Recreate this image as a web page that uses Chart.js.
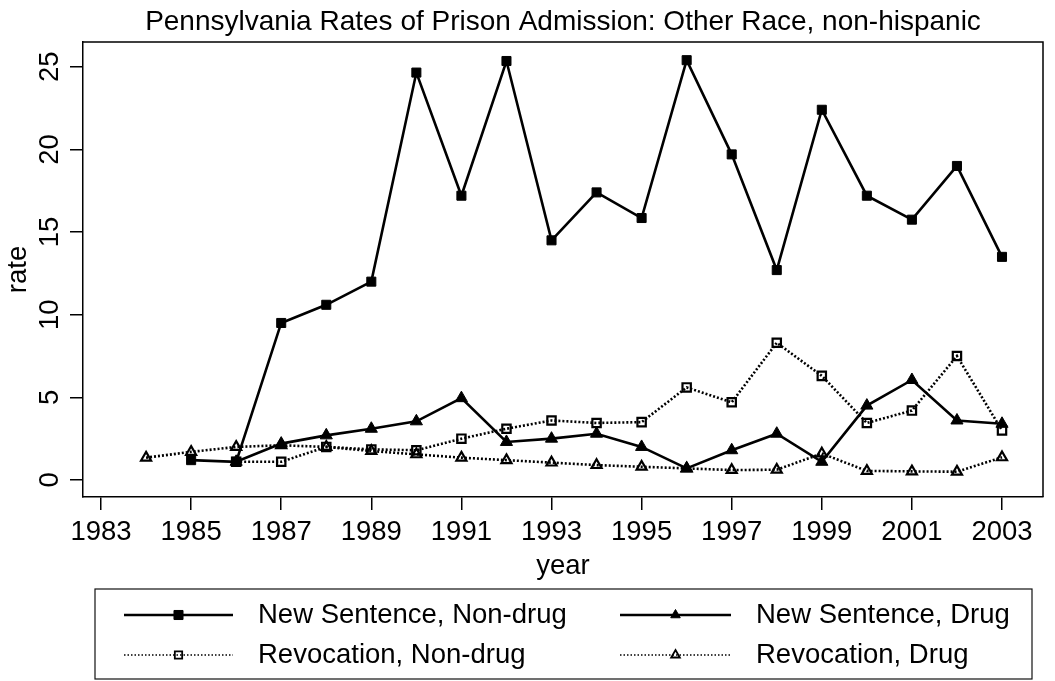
<!DOCTYPE html>
<html>
<head>
<meta charset="utf-8">
<script src="https://cdn.jsdelivr.net/npm/chart.js@4.4.0/dist/chart.umd.min.js"></script>
<style>html,body{margin:0;padding:0;background:#fff}canvas{display:block}</style>
</head>
<body>
<canvas id="c" width="1055" height="681"></canvas>
<script>
// ---- data ----
const years = [1984,1985,1986,1987,1988,1989,1990,1991,1992,1993,1994,1995,1996,1997,1998,1999,2000,2001,2002,2003];
const newSentenceNonDrug = [null,1.2,1.1,9.5,10.6,12.0,24.65,17.2,25.35,14.5,17.4,15.85,25.4,19.7,12.7,22.4,17.2,15.75,19.0,13.5];
const newSentenceDrug    = [null,null,1.1,2.2,2.7,3.1,3.55,4.95,2.3,2.5,2.8,2.0,0.7,1.8,2.8,1.1,4.5,6.05,3.6,3.4];
const revocationNonDrug  = [null,null,1.1,1.1,2.0,1.85,1.8,2.5,3.1,3.6,3.45,3.5,5.6,4.7,8.3,6.3,3.45,4.2,7.5,3.0];
const revocationDrug     = [1.35,1.7,2.0,2.1,2.0,1.75,1.55,1.35,1.2,1.05,0.9,0.8,0.7,0.6,0.62,1.6,0.55,0.52,0.5,1.37];
const seriesLabels = ['New Sentence, Non-drug','New Sentence, Drug','Revocation, Non-drug','Revocation, Drug'];
const xTickLabels = [1983,1985,1987,1989,1991,1993,1995,1997,1999,2001,2003];
const yTickLabels = [0,5,10,15,20,25];
const titleText = 'Pennsylvania Rates of Prison Admission: Other Race, non-hispanic';
const xTitle = 'year';
const yTitle = 'rate';

const FONT_FAMILY = "'Liberation Sans', Arial, Helvetica, sans-serif";
const FS = 27.5;
Chart.defaults.font.family = FONT_FAMILY;
Chart.defaults.color = '#000';

function pts(arr){ return years.map((yr,i)=>({x:yr, y:arr[i]})); }

const styles = [
  {pointStyle:'rect', pointRadius:6.4, pointBorderWidth:1, fill:'#000', dash:[], lw:2.6},
  {pointStyle:'triangle', pointRadius:7, pointBorderWidth:1, fill:'#000', dash:[], lw:2.6},
  {pointStyle:'rect', pointRadius:5.9, pointBorderWidth:2.2, fill:'rgba(0,0,0,0)', dash:[2,2], lw:2.6},
  {pointStyle:'triangle', pointRadius:5.8, pointBorderWidth:2.2, fill:'rgba(0,0,0,0)', dash:[2,2], lw:2.6}
];
const seriesData = [newSentenceNonDrug, newSentenceDrug, revocationNonDrug, revocationDrug];

const datasets = seriesData.map((arr,i)=>({
  label: seriesLabels[i],
  data: pts(arr),
  borderColor:'#000',
  borderWidth: styles[i].lw,
  borderDash: styles[i].dash,
  borderCapStyle:'butt',
  pointStyle: styles[i].pointStyle,
  pointRadius: styles[i].pointRadius,
  pointBorderWidth: styles[i].pointBorderWidth,
  pointBackgroundColor: styles[i].fill,
  pointBorderColor:'#000',
  tension:0,
  fill:false,
  spanGaps:false
}));

function drawMarker(ctx, style, x, y, r, bw, fill){
  ctx.save();
  ctx.setLineDash([]);
  ctx.beginPath();
  if (style === 'rect') {
    const s = Math.SQRT1_2 * r;
    ctx.rect(x - s, y - s, 2*s, 2*s);
  } else {
    const h = Math.PI*2/3;
    let a = 0;
    ctx.moveTo(x + Math.sin(a)*r, y - Math.cos(a)*r); a += h;
    ctx.lineTo(x + Math.sin(a)*r, y - Math.cos(a)*r); a += h;
    ctx.lineTo(x + Math.sin(a)*r, y - Math.cos(a)*r);
    ctx.closePath();
  }
  ctx.fillStyle = fill; ctx.fill();
  ctx.lineWidth = bw; ctx.strokeStyle = '#000'; ctx.stroke();
  ctx.restore();
}

const extras = {
  id:'extras',
  afterDraw(chart){
    const {ctx, chartArea:a, scales:{y}} = chart;
    ctx.save();
    // top & right frame
    ctx.strokeStyle = '#000'; ctx.lineWidth = 1.5;
    ctx.beginPath();
    ctx.moveTo(a.left, a.top); ctx.lineTo(a.right, a.top); ctx.lineTo(a.right, a.bottom);
    ctx.stroke();
    // rotated y tick labels
    ctx.fillStyle = '#000';
    ctx.font = FS + 'px ' + FONT_FAMILY;
    ctx.textAlign = 'center'; ctx.textBaseline = 'middle';
    yTickLabels.forEach(v=>{
      const py = y.getPixelForValue(v);
      ctx.save(); ctx.translate(50, py); ctx.rotate(-Math.PI/2);
      ctx.fillText(String(v), 0, 0); ctx.restore();
    });
    // legend
    const box = {l:95, t:589, r:1032, b:679};
    ctx.lineWidth = 1.2; ctx.strokeStyle = '#111';
    ctx.strokeRect(box.l, box.t, box.r - box.l, box.b - box.t);
    const cols = [{s:124, e:233, tx:258},{s:620, e:731, tx:756}];
    const rows = [615, 655];
    chart.data.datasets.forEach((ds, i)=>{
      const c = cols[i % 2], ry = rows[Math.floor(i/2)];
      const st = styles[i];
      ctx.save();
      ctx.strokeStyle = '#000';
      if (st.dash.length) { ctx.lineWidth = 1.3; ctx.setLineDash([1.5,2]); }
      else { ctx.lineWidth = 2.4; ctx.setLineDash([]); }
      ctx.beginPath(); ctx.moveTo(c.s, ry); ctx.lineTo(c.e, ry); ctx.stroke();
      ctx.restore();
      const mx = (c.s + c.e)/2;
      if (st.pointStyle === 'rect') drawMarker(ctx, 'rect', mx, ry, st.fill === '#000' ? 6.4 : 5.2, st.fill === '#000' ? 1 : 1.8, st.fill);
      else drawMarker(ctx, 'triangle', mx, ry, st.fill === '#000' ? 5.5 : 5, st.fill === '#000' ? 1 : 1.8, st.fill);
      ctx.fillStyle = '#000';
      ctx.textAlign = 'left'; ctx.textBaseline = 'middle';
      ctx.font = FS + 'px ' + FONT_FAMILY;
      ctx.fillText(ds.label, c.tx, ry);
    });
    ctx.restore();
  }
};

new Chart(document.getElementById('c'), {
  type:'line',
  data:{ datasets },
  plugins:[extras],
  options:{
    responsive:false,
    animation:false,
    devicePixelRatio:1,
    layout:{ padding:{left:0, right:12, top:0, bottom:95} },
    plugins:{
      legend:{display:false},
      tooltip:{enabled:false},
      title:{display:true, fullSize:false, text:titleText, color:'#000',
        font:{size:28, weight:'normal', lineHeight:1.2},
        padding:{top:5, bottom:3.4}}
    },
    scales:{
      x:{
        type:'linear', min:1982.6, max:2003.91,
        afterBuildTicks: s => { s.ticks = xTickLabels.map(v=>({value:v})); },
        afterFit: s => { s.height = 89; },
        grid:{drawOnChartArea:false, drawTicks:true, tickLength:13, color:'#000', lineWidth:1.5},
        border:{display:true, color:'#000', width:1.5},
        ticks:{color:'#000', font:{size:FS}, padding:5.5, maxRotation:0, minRotation:0, autoSkip:false, callback:v=>String(v)},
        title:{display:true, text:xTitle, color:'#000', font:{size:FS}, padding:{top:0, bottom:3.5}}
      },
      y:{
        type:'linear', min:-1.03, max:26.5,
        afterBuildTicks: s => { s.ticks = yTickLabels.map(v=>({value:v})); },
        afterFit: s => { s.width = 83; },
        grid:{drawOnChartArea:false, drawTicks:true, tickLength:13, color:'#000', lineWidth:1.5},
        border:{display:true, color:'#000', width:1.5},
        ticks:{display:false},
        title:{display:true, text:yTitle, color:'#000', font:{size:FS}, padding:{top:1.5, bottom:0}}
      }
    }
  }
});
</script>
</body>
</html>
